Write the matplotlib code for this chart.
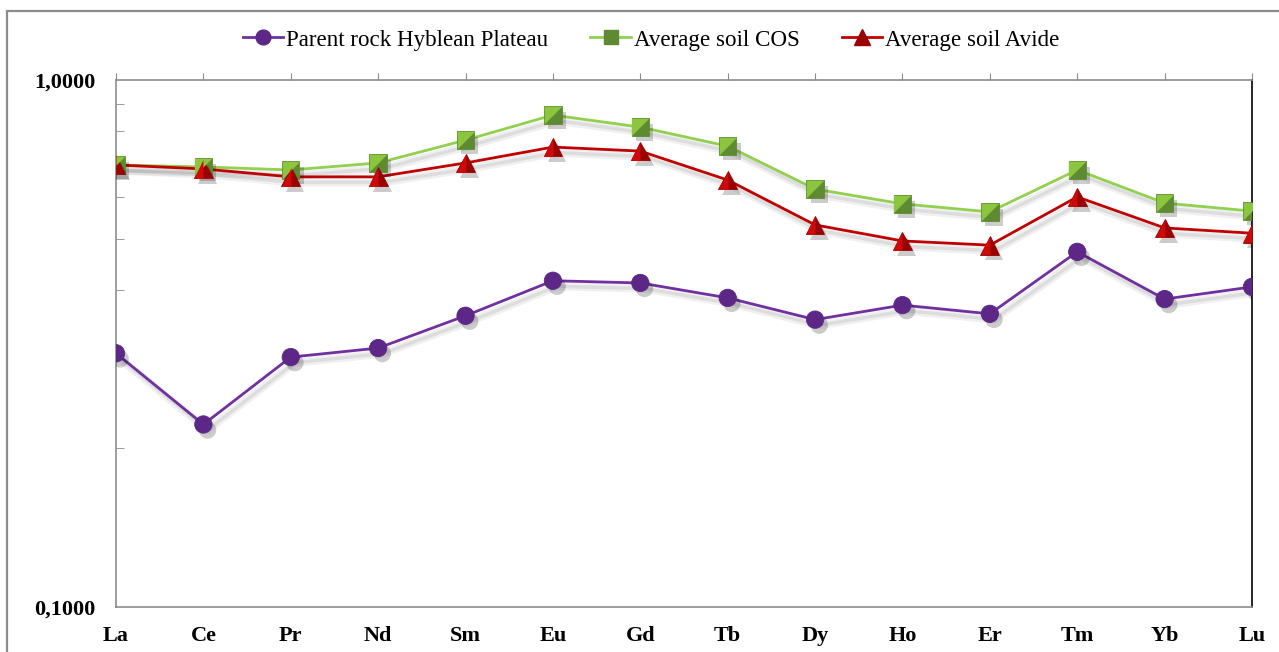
import matplotlib.pyplot as plt
import matplotlib.patheffects as pe
from matplotlib.path import Path
from matplotlib.patches import Rectangle
from matplotlib.ticker import LogLocator, NullFormatter

plt.rcParams['font.family'] = ['Liberation Serif', 'DejaVu Serif']

# REE patterns (normalised values)
elements = ['La', 'Ce', 'Pr', 'Nd', 'Sm', 'Eu', 'Gd', 'Tb', 'Dy', 'Ho', 'Er', 'Tm', 'Yb', 'Lu']
parent_rock = [0.303, 0.222, 0.298, 0.310, 0.357, 0.416, 0.412, 0.386, 0.351, 0.374, 0.360, 0.472, 0.384, 0.405]
soil_cos = [0.690, 0.684, 0.675, 0.696, 0.769, 0.858, 0.814, 0.749, 0.621, 0.582, 0.562, 0.675, 0.584, 0.564]
soil_avide = [0.690, 0.678, 0.655, 0.655, 0.696, 0.746, 0.733, 0.646, 0.531, 0.495, 0.486, 0.600, 0.524, 0.512]
y_ticks = [0.1, 1.0]
y_ticklabels = ['0,1000', '1,0000']

fig = plt.figure(figsize=(12.79, 6.52), dpi=100)
ax = fig.add_axes([0.0907, 0.0690, 0.8882, 0.8083])

# outer chart frame
fig.patches.append(Rectangle((0.0055, -0.2), 1.2, 1.1831, transform=fig.transFigure,
                             fill=False, edgecolor='#8c8c8c', linewidth=1.6))

x = list(range(len(elements)))

# soft drop shadows: a wide faint pass plus a narrower one
line_shadow = [pe.SimpleLineShadow(offset=(3, -4), shadow_color='#000000', alpha=0.06, linewidth=6),
               pe.SimpleLineShadow(offset=(3, -4), shadow_color='#000000', alpha=0.08, linewidth=2.5),
               pe.Normal()]
mark_shadow = [pe.SimplePatchShadow(offset=(3, -4), shadow_rgbFace='#000000', alpha=0.2), pe.Normal()]

# half-marker shapes for the bevelled look
sq_half = Path([(-1, -1), (-1, 1), (1, 1), (-1, -1)])
tri_half = Path([(0, 1), (-1, -1), (0, -1), (0, 1)])
sq_full = Path([(-1, -1), (-1, 1), (1, 1), (1, -1), (-1, -1)])

series = [
    (parent_rock, 'Parent rock Hyblean Plateau', '#7030A0', 'o', None, '#5c2787', '#4a1d6d', 12.5),
    (soil_cos, 'Average soil COS', '#92D050', sq_full, sq_half, '#5e8b31', '#8cc63f', 12.5),
    (soil_avide, 'Average soil Avide', '#C00000', '^', tri_half, '#9a0000', '#cc0a0a', 13.5),
]

handles = []
for vals, name, lc, mk, half, mdark, mlight, ms in series:
    ax.plot(x, vals, color=lc, lw=2.0, solid_joinstyle='round', path_effects=line_shadow, zorder=2)
    ax.plot(x, vals, ls='none', marker=mk, ms=ms, mfc=mdark, mec=mdark, mew=0.6,
            path_effects=mark_shadow, zorder=3)
    if half is not None:
        ax.plot(x, vals, ls='none', marker=half, ms=ms, mfc=mlight, mec='none', zorder=4)
    h, = ax.plot([], [], color=lc, lw=2.0, marker=mk, ms=ms * 0.85, mfc=mdark, mec=mdark)
    h.set_label(name)
    handles.append(h)

ax.set_yscale('log')
ax.set_ylim(0.1, 1.0)
ax.set_xlim(0, len(elements) - 1)

ax.set_yticks(y_ticks)
ax.set_yticklabels(y_ticklabels, fontsize=16, fontweight='bold')
ax.yaxis.set_minor_locator(LogLocator(base=10, subs=[2, 3, 4, 5, 6, 7, 8, 9]))
ax.yaxis.set_minor_formatter(NullFormatter())
ax.tick_params(axis='y', which='both', direction='in', length=6, color='#8c8c8c', pad=15)
ax.tick_params(axis='y', which='major', length=0)

ax.set_xticks(x)
ax.set_xticklabels(elements, fontsize=16, fontweight='bold')
ax.tick_params(axis='x', top=True, bottom=False, labeltop=False, labelbottom=True,
               direction='out', length=5, color='#8c8c8c', pad=9)

for side in ['left', 'top', 'bottom']:
    ax.spines[side].set_color('#8c8c8c')
    ax.spines[side].set_linewidth(1.2)
ax.spines['right'].set_color('black')
ax.spines['right'].set_linewidth(1.2)

fig.legend(handles=handles, loc='center', bbox_to_anchor=(0.509, 0.9387), ncol=3, frameon=False,
           fontsize=16.6, handlelength=1.75, handletextpad=0.12, columnspacing=1.85)

fig.savefig('out.png', dpi=100)
